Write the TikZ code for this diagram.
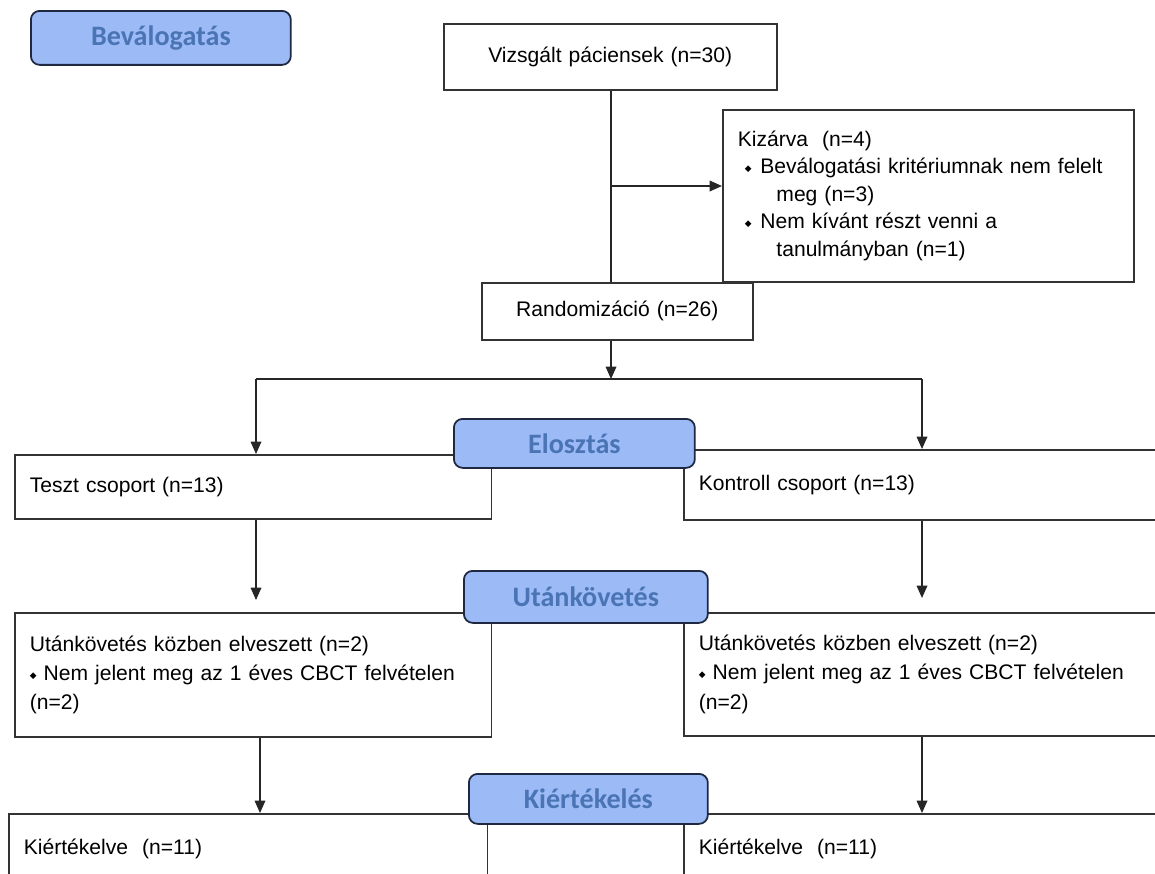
\documentclass[tikz,border=0pt]{standalone}
\usepackage{fontspec}
\setmainfont{Liberation Sans}
\newfontfamily\hdfont{Carlito}
\newfontfamily\symfont{DejaVu Sans}
\usepackage{tikz}
\usetikzlibrary{arrows.meta,positioning}
\definecolor{phasefill}{HTML}{9BBAF6}
\definecolor{phasetext}{HTML}{4A74B4}
\definecolor{phaseline}{HTML}{1E2840}
\newcommand{\dia}{\raisebox{1.3pt}{\symfont\fontsize{5}{5}\selectfont ◆}}

\begin{document}
\begin{tikzpicture}[
    x=0.02cm, y=-0.02cm,
    font=\fontsize{12}{16}\selectfont,
    box/.style={rectangle, draw=black!80, line width=0.9pt, fill=white, anchor=north west, inner xsep=0.3cm, inner ysep=0pt, align=left},
    phase/.style={rectangle, rounded corners=5pt, draw=phaseline, line width=1pt, fill=phasefill, text=phasetext, font=\hdfont\bfseries\fontsize{16}{18}\selectfont, anchor=north west, inner sep=0pt},
    arrow/.style={-{Triangle[length=7pt,width=6pt]}, line width=0.9pt, draw=black!85},
    line/.style={line width=0.9pt, draw=black!85}
]
    \useasboundingbox (0,0) rectangle (1155,873);
    \clip (0,0) rectangle (1155,873);

    \node[box, align=center, text width=6.06cm, minimum height=1.32cm] (viz) at (443,23) {Vizsgált páciensek (n=30)};
    \node[box, text width=7.62cm, minimum height=3.44cm, font=\fontsize{12}{15.7}\selectfont] (kiz) at (722,109) {Kizárva\ \ (n=4)\\
        \hspace*{4pt}\dia\hspace{5pt}Beválogatási kritériumnak nem felelt\\
        \hspace*{22pt}meg (n=3)\\
        \hspace*{4pt}\dia\hspace{5pt}Nem kívánt részt venni a\\
        \hspace*{22pt}tanulmányban (n=1)};
    \node[box, align=center, text width=4.82cm, minimum height=1.14cm] (rand) at (481,282) {Randomizáció (n=26)};

    \node[box, text width=8.94cm, minimum height=1.28cm] (teszt) at (14,454) {Teszt csoport (n=13)};
    \node[box, text width=9.14cm, minimum height=1.4cm] (kontroll) at (683,449) {Kontroll csoport (n=13)};
    \node[box, text width=8.94cm, minimum height=2.48cm, font=\fontsize{12}{16.7}\selectfont] (utanL) at (14,612) {Utánkövetés közben elveszett (n=2)\\
        \dia\ Nem jelent meg az 1 éves CBCT felvételen\\
        (n=2)};
    \node[box, text width=9.14cm, minimum height=2.46cm, font=\fontsize{12}{16.7}\selectfont] (utanR) at (683,612) {Utánkövetés közben elveszett (n=2)\\
        \dia\ Nem jelent meg az 1 éves CBCT felvételen\\
        (n=2)};
    \node[box, text width=8.98cm, minimum height=1.4cm] (kiertL) at (8,813) {Kiértékelve\ \ (n=11)};
    \node[box, text width=9.14cm, minimum height=1.4cm] (kiertR) at (683,813) {Kiértékelve\ \ (n=11)};

    % connectors
    \coordinate (split) at (611,379);
    \coordinate (exc) at (611,186);
    \coordinate (brL) at (256,379);
    \coordinate (brR) at (922,379);
    \coordinate (tipL) at (256,600);
    \coordinate (tipR) at (922,598);
    \coordinate (lowL) at (260,813);
    \coordinate (markA) at (530,379);
    \coordinate (markB) at (647,379);

    \draw[line] (split |- viz.south) -- (split |- rand.north);
    \draw[arrow] (exc) -- (exc -| kiz.west);
    \draw[arrow] (split |- rand.south) -- (split);
    \draw[line] (brL) -- (brR);
    \draw[line width=1.5pt, draw=black!85] (markA) -- (markB);
    \draw[arrow] (brL) -- (brL |- teszt.north);
    \draw[arrow] (brR) -- (brR |- kontroll.north);
    \draw[arrow] (tipL |- teszt.south) -- (tipL);
    \draw[arrow] (tipR |- kontroll.south) -- (tipR);
    \draw[arrow] (lowL |- utanL.south) -- (lowL |- kiertL.north);
    \draw[arrow] (brR |- utanR.south) -- (brR |- kiertR.north);

    % phase labels
    \node[phase, minimum width=5.2cm, minimum height=1.08cm] (bev) at (30,10) {Beválogatás};
    \node[phase, minimum width=4.82cm, minimum height=0.98cm] (elo) at (453,418) {Elosztás};
    \node[phase, minimum width=4.88cm, minimum height=1.04cm] (utk) at (463,570) {Utánkövetés};
    \node[phase, minimum width=4.78cm, minimum height=1.0cm] (kie) at (468,773) {Kiértékelés};
\end{tikzpicture}
\end{document}
